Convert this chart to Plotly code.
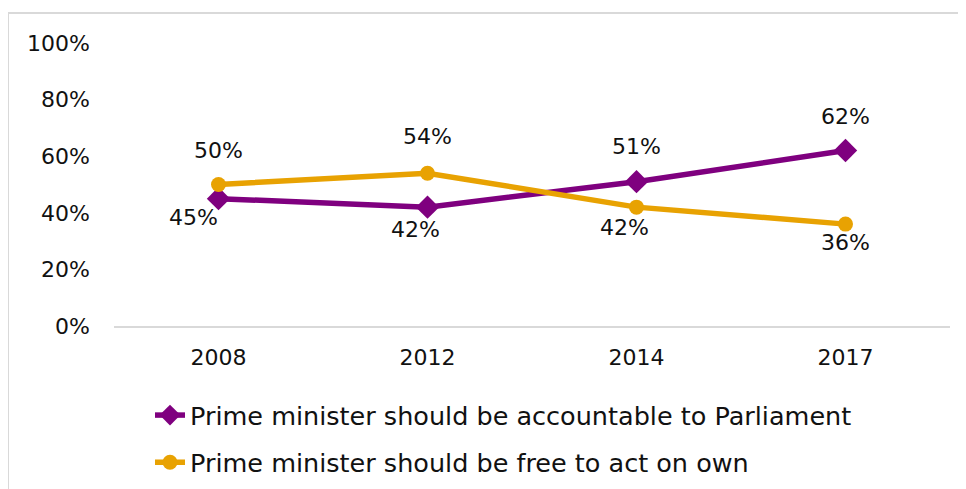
import plotly.graph_objects as go

years = ["2008", "2012", "2014", "2017"]
accountable = [45, 42, 51, 62]
free_to_act = [50, 54, 42, 36]
y_ticks = [0, 20, 40, 60, 80, 100]
y_tick_labels = ["0%", "20%", "40%", "60%", "80%", "100%"]
name_acc = "Prime minister should be accountable to Parliament"
name_free = "Prime minister should be free to act on own"

PURPLE = "#7F007F"
ORANGE = "#E8A202"
FONT = "DejaVu Sans"
TXT = "#111111"

fig = go.Figure()
fig.add_trace(go.Scatter(
    x=years, y=accountable, name=name_acc, mode="lines+markers",
    line=dict(color=PURPLE, width=5.5),
    marker=dict(symbol="diamond", size=18, color=PURPLE),
    legendgroup="a",
))
fig.add_trace(go.Scatter(
    x=years, y=free_to_act, name=name_free, mode="lines+markers",
    line=dict(color=ORANGE, width=5.5),
    marker=dict(symbol="circle", size=15, color=ORANGE),
    legendgroup="b",
))

# data label offsets in pixels (label placement only)
acc_shift = [(-25, -19), (-12, -22), (0, 35), (0, 34)]
free_shift = [(0, 34), (0, 37), (-12, -20), (0, -18)]
for i, yr in enumerate(years):
    dx, dy = acc_shift[i]
    fig.add_annotation(x=i, y=accountable[i], text=f"{accountable[i]}%",
                       showarrow=False, xshift=dx, yshift=dy,
                       font=dict(family=FONT, size=22, color=TXT))
    dx, dy = free_shift[i]
    fig.add_annotation(x=i, y=free_to_act[i], text=f"{free_to_act[i]}%",
                       showarrow=False, xshift=dx, yshift=dy,
                       font=dict(family=FONT, size=22, color=TXT))

# page has an 8px body margin, so figure coords = screen coords - 8
OFF = 8
W, H = 966, 489
L, R, T, B = 114 - OFF, W - (950 - OFF), 43 - OFF, H - (326 - OFF)
pw, ph = W - L - R, H - T - B

def px_x(p):
    return (p - OFF - L) / pw

def px_y(p):
    return (H - B - (p - OFF)) / ph

# outer chart border (top and left edges visible)
fig.add_shape(type="line", xref="paper", yref="paper",
              x0=px_x(8), x1=px_x(980), y0=px_y(13), y1=px_y(13),
              line=dict(color="#D9D9D9", width=2))
fig.add_shape(type="line", xref="paper", yref="paper",
              x0=px_x(8), x1=px_x(8), y0=px_y(13), y1=px_y(500),
              line=dict(color="#D9D9D9", width=2))

fig.update_layout(
    width=W, height=H,
    margin=dict(l=L, r=R, t=T, b=B, autoexpand=False),
    paper_bgcolor="white", plot_bgcolor="white",
    font=dict(family=FONT, size=22, color=TXT),
    showlegend=True,
    legend=dict(
        orientation="v",
        xref="container", yref="container",
        x=(150 - OFF) / W, y=1 - (392 - OFF) / H,
        xanchor="left", yanchor="top",
        font=dict(family=FONT, size=25.5, color=TXT),
        tracegroupgap=11, bgcolor="rgba(0,0,0,0)",
    ),
    xaxis=dict(
        type="category", showgrid=False, zeroline=False,
        range=[-0.5, 3.5],
        showline=True, linecolor="#D9D9D9", linewidth=2,
        ticks="", ticklabelstandoff=11,
        tickfont=dict(family=FONT, size=22, color=TXT),
    ),
    yaxis=dict(
        range=[0, 100], tickvals=y_ticks, ticktext=y_tick_labels,
        showgrid=False, zeroline=False, showline=False, ticks="",
        ticklabelstandoff=23,
        tickfont=dict(family=FONT, size=22, color=TXT),
    ),
)

fig.write_html("out.html")
